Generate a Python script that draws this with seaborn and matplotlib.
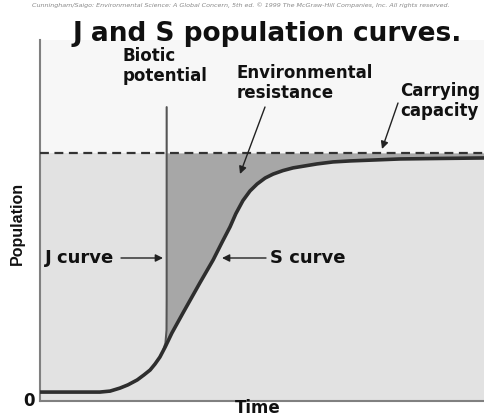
import matplotlib
matplotlib.use("Agg")
import matplotlib.pyplot as plt
import seaborn as sns
import pandas as pd

# ---- data (time 0-10, population as fraction of carrying capacity) ----
s_time = [0, 1.35, 1.58, 1.80, 1.98, 2.19, 2.34, 2.48, 2.59, 2.70, 2.82, 2.97, 3.22, 3.60, 3.90,
          4.10, 4.28, 4.41, 4.57, 4.73, 4.89, 5.07, 5.25, 5.47, 5.70, 5.97, 6.24, 6.60, 6.98, 7.55,
          8.11, 9.0, 10]
s_pop = [0.036, 0.036, 0.040, 0.052, 0.065, 0.085, 0.105, 0.125, 0.149, 0.177, 0.218, 0.274, 0.355,
         0.476, 0.569, 0.640, 0.702, 0.755, 0.808, 0.847, 0.875, 0.899, 0.915, 0.929, 0.940, 0.948,
         0.956, 0.964, 0.968, 0.972, 0.976, 0.978, 0.980]
j_time = [0, 1.35, 1.58, 1.80, 1.98, 2.19, 2.34, 2.48, 2.59, 2.70, 2.77, 2.826, 2.85, 2.853, 2.853]
j_pop = [0.036, 0.036, 0.040, 0.052, 0.065, 0.085, 0.105, 0.125, 0.149, 0.177, 0.202, 0.234, 0.286,
         0.407, 1.185]
carrying_capacity = 1.0
fill_time = [2.853, 2.97, 3.22, 3.60, 3.90, 4.10, 4.28, 4.41, 4.57, 4.73, 4.89, 5.07, 5.25, 5.47,
             5.70, 5.97, 6.24, 6.60, 6.98, 7.55, 8.11, 9.0, 10]
fill_pop = [0.231, 0.274, 0.355, 0.476, 0.569, 0.640, 0.702, 0.755, 0.808, 0.847, 0.875, 0.899,
            0.915, 0.929, 0.940, 0.948, 0.956, 0.964, 0.968, 0.972, 0.976, 0.978, 0.980]

title = "J and S population curves."
credit = ("Cunningham/Saigo: Environmental Science: A Global Concern, 5th ed. \u00a9 1999 "
          "The McGraw-Hill Companies, Inc. All rights reserved.")

sns.set_theme(style="white")
plt.rcParams["font.family"] = ["DejaVu Sans"]

W, H = 484, 417
fig = plt.figure(figsize=(W / 100, H / 100), dpi=100, facecolor="white")
ax = fig.add_axes([40 / W, (H - 401) / H, 444 / W, 361 / H])
ax.set_facecolor("#f7f7f7")
ax.set_xlim(0, 10)
ax.set_ylim(0, 361 / 248)

# backgrounds
ax.axhspan(0, carrying_capacity, color="#e2e2e2", zorder=0, lw=0)
ax.fill_between(fill_time, fill_pop, carrying_capacity, color="#a7a7a7", lw=0, zorder=1)

s_df = pd.DataFrame({"Time": s_time, "Population": s_pop})
j_df = pd.DataFrame({"Time": j_time, "Population": j_pop})
sns.lineplot(data=j_df, x="Time", y="Population", sort=False, estimator=None, ax=ax,
             color="#555555", lw=1.5, zorder=3)
sns.lineplot(data=s_df, x="Time", y="Population", sort=False, estimator=None, ax=ax,
             color="#2e2e2e", lw=2.6, zorder=4)
for ln in ax.get_lines():
    ln.set_solid_joinstyle("round")
    ln.set_solid_capstyle("round")
ax.axhline(carrying_capacity, color="#333333", lw=1.6, ls=(0, (4, 2.5)), zorder=5)

ax.set_xticks([])
ax.set_yticks([])
ax.set_xlabel("")
ax.set_ylabel("")
for side in ["top", "right"]:
    ax.spines[side].set_visible(False)
for side in ["left", "bottom"]:
    ax.spines[side].set_color("#808080")
    ax.spines[side].set_linewidth(1.5)


def fx(x):
    return x / W


def fy(y):
    return 1 - y / H


bold = dict(fontweight="bold", color="#111111")
fig.text(fx(267), fy(41), title, ha="center", va="baseline", fontsize=19, **bold)
fig.text(fx(32), fy(5), credit, ha="left", va="center", fontsize=4.6, color="#888888", style="italic")

fs = 12
fig.text(fx(123), fy(81), "Biotic\npotential", ha="left", va="baseline", fontsize=fs,
         linespacing=1.15, **bold)
fig.text(fx(237), fy(98), "Environmental\nresistance", ha="left", va="baseline", fontsize=fs,
         linespacing=1.15, **bold)
fig.text(fx(400), fy(116), "Carrying\ncapacity", ha="left", va="baseline", fontsize=fs,
         linespacing=1.15, **bold)
fig.text(fx(45), fy(263), "J curve", ha="left", va="baseline", fontsize=13, **bold)
fig.text(fx(270), fy(263), "S curve", ha="left", va="baseline", fontsize=13, **bold)
fig.text(fx(17), fy(223), "Population", ha="center", va="center", rotation=90, fontsize=11.5,
         family=["Liberation Sans", "DejaVu Sans"], **bold)
fig.text(fx(29), fy(401), "0", ha="center", va="center", fontsize=fs, **bold)
fig.text(fx(258), fy(408), "Time", ha="center", va="center", fontsize=fs, **bold)

arrow = dict(arrowstyle="-|>", color="#222222", lw=1.0, mutation_scale=11, shrinkA=0, shrinkB=0)


def arr(x0, y0, x1, y1):
    ax.annotate("", xy=(x1, H - y1), xycoords="figure pixels",
                xytext=(x0, H - y0), textcoords="figure pixels", arrowprops=arrow, zorder=6)


arr(121, 258, 163, 258)
arr(266, 258, 222, 258)
arr(265, 107, 240, 174)
arr(398, 103, 382, 149)

fig.savefig("out.png", dpi=100, facecolor="white")
